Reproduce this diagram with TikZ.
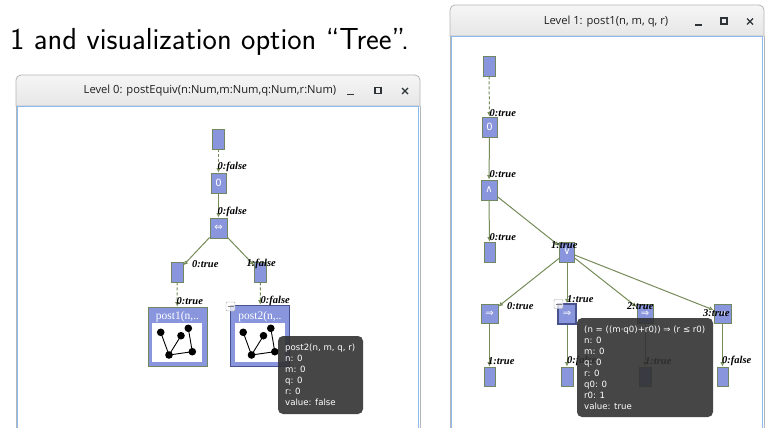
\documentclass[tikz,border=0pt]{standalone}
\usepackage{fontspec}
\usetikzlibrary{arrows.meta}
\newfontfamily\lblfont{Liberation Serif}
\newfontfamily\glyphfont{DejaVu Sans}
\newfontfamily\uifont{Open Sans}
\newfontfamily\tipfont{DejaVu Sans}
\definecolor{nodefill}{RGB}{137,150,222}
\definecolor{nodeline}{RGB}{112,135,95}
\definecolor{edgecol}{RGB}{118,140,88}
\definecolor{selline}{RGB}{72,82,140}
\definecolor{tipbg}{RGB}{50,50,50}
\definecolor{winline}{RGB}{182,182,182}
\definecolor{frameblue}{RGB}{140,186,240}
\definecolor{titletop}{RGB}{246,246,246}
\definecolor{titlebot}{RGB}{230,230,230}
\definecolor{btncol}{RGB}{46,52,54}
\tikzset{
  tn/.style={draw=nodeline, fill=nodefill, line width=0.8pt, inner sep=0pt,
    text=white, font=\glyphfont\fontsize{10}{10}\selectfont},
  seltn/.style={tn, draw=selline, line width=1.4pt},
  lnk/.style={draw=edgecol, line width=1pt, -{Latex[open,length=4.5pt,width=4.5pt]}},
  dlnk/.style={lnk, dash pattern=on 3pt off 2pt},
  lbl/.style={font=\lblfont\bfseries\itshape\fontsize{10.5}{10.5}\selectfont,
    inner sep=0pt, anchor=west, text=black},
  bignode/.style={draw=nodeline, fill=nodefill, line width=0.8pt, inner sep=0pt,
    minimum width=59pt, minimum height=59pt},
  posttitle/.style={font=\lblfont\fontsize{11.5}{11.5}\selectfont, text=white, inner sep=0pt},
  thumbbox/.style={fill=white, inner sep=0pt, minimum width=50pt, minimum height=39pt},
  tiptext/.style={font=\tipfont\fontsize{8.6}{11}\selectfont, text=white, align=left,
    inner sep=0pt, anchor=north west},
  tipbox/.style={fill=tipbg, fill opacity=0.9, rounded corners=5pt},
  wintitle/.style={font=\uifont\fontsize{11.2}{11.2}\selectfont, text=black!88, inner sep=0pt},
  collapse/.style={draw=black!35, fill=white, fill opacity=0.75, rounded corners=1pt,
    minimum width=9pt, minimum height=9pt, inner sep=0pt},
  thumb/.pic={
    \coordinate (-a) at (8.7,9.3);
    \coordinate (-b) at (29,12.7);
    \coordinate (-c) at (36.3,5.3);
    \coordinate (-d) at (17,32);
    \coordinate (-e) at (40.3,28.7);
    \draw[black, line width=0.9pt] (-a) -- (-d) -- (-b) (-c) -- (-e) -- (-d);
    \foreach \p in {a,b,c,d,e} \fill[black] (-\p) circle (3.8pt);
  }
}
\begin{document}
\begin{tikzpicture}[x=1pt, y=-1pt]
\useasboundingbox (0,0) rectangle (774,428);
\fill[white] (0,0) rectangle (774,428);

% caption line above the windows
\node[font=\sffamily\fontsize{30.4}{33}\selectfont, anchor=base west, inner sep=0pt]
  (caption) at (10,50) {1 and visualization option “Tree”.};

% ---------- window: Level 0 ----------
\fill[white] (16,105) rectangle (420,430);
\path[top color=titletop, bottom color=titlebot, draw=winline, line width=0.8pt]
  (16,106) [rounded corners=5pt] -- (16,75) -- (420,75) [sharp corners] -- (420,106) -- cycle;
\draw[winline, line width=0.8pt] (16,106) -- (16,430) (420,106) -- (420,430);
\draw[frameblue, line width=1.6pt] (17.6,430) -- (17.6,106.6) -- (418.4,106.6) -- (418.4,430);
\node[wintitle] (t0) at (210,91) {Level 0: postEquiv(n:Num,m:Num,q:Num,r:Num)};
\draw[btncol, line width=1.4pt] (347,94.5) -- (354,94.5);
\draw[btncol, line width=1.2pt] (375,87.5) rectangle (381,93.5);
\draw[btncol, line width=1.3pt] (402,88) -- (408,94) (402,94) -- (408,88);

% ---------- window: Level 1 ----------
\fill[white] (450,35) rectangle (764,430);
\path[top color=titletop, bottom color=titlebot, draw=winline, line width=0.8pt]
  (450,36) [rounded corners=5pt] -- (450,5) -- (764,5) [sharp corners] -- (764,36) -- cycle;
\draw[winline, line width=0.8pt] (450,36) -- (450,430) (764,36) -- (764,430);
\draw[frameblue, line width=1.6pt] (451.6,430) -- (451.6,36.6) -- (762.4,36.6) -- (762.4,430);
\node[wintitle] (t1) at (606,21.5) {Level 1: post1(n, m, q, r)};
\draw[btncol, line width=1.4pt] (695,25) -- (702,25);
\draw[btncol, line width=1.2pt] (721,18) rectangle (727,24);
\draw[btncol, line width=1.3pt] (747,18.5) -- (753,24.5) (747,24.5) -- (753,18.5);

% ---------- tree: postEquiv ----------
\node[tn, minimum width=12pt, minimum height=20pt] (Ltop) at (218.5,139) {};
\node[tn, minimum width=15pt, minimum height=20pt] (Lzero) at (218.5,183) {0};
\node[tn, minimum width=17pt, minimum height=20pt] (Leqv) at (218.5,228) {⇔};
\node[tn, minimum width=12pt, minimum height=20pt] (Lc0) at (177,272) {};
\node[tn, minimum width=12pt, minimum height=20pt] (Lc1) at (260.5,272) {};
\node[bignode] (P1) at (177.5,336.5) {};
\node[bignode, draw=selline, line width=1.8pt, minimum width=59pt, minimum height=61pt] (P2) at (260,336) {};
\node[posttitle] (P1t) at (177.5,316.5) {post1(n,..};
\node[posttitle] (P2t) at (260,316.5) {post2(n,..};
\node[thumbbox, anchor=north west] (P1b) at (152,323) {};
\node[thumbbox, anchor=north west] (P2b) at (234.5,323) {};
\pic (g1) at (P1b.north west) {thumb};
\pic (g2) at (P2b.north west) {thumb};

\draw[dlnk] (Ltop) -- (Lzero);
\draw[lnk] (Lzero) -- (Leqv);
\draw[lnk] (Leqv) -- (Lc0);
\draw[lnk] (Leqv) -- (Lc1);
\draw[dlnk] (Lc0) -- (P1);
\draw[dlnk] (Lc1) -- (P2);

\node[lbl] (la1) at (217.5,167) {0:false};
\node[lbl] (la2) at (217.5,212) {0:false};
\node[lbl] (la3) at (192,264) {0:true};
\node[lbl] (la4) at (246.5,264) {1:false};
\node[lbl] (la5) at (176.5,301) {0:true};
\node[lbl] (la6) at (260.5,301) {0:false};

\node[collapse] (Lcol) at (230.5,306.5) {};
\draw[black!50, line width=1pt] (227.5,306.5) -- (233.5,306.5);

% ---------- tree: post1 ----------
\node[tn, minimum width=12pt, minimum height=20pt] (Rtop) at (489,66) {};
\node[tn, minimum width=15pt, minimum height=20pt] (Rzero) at (489.5,127) {0};
\node[tn, minimum width=16pt, minimum height=20pt] (Rand) at (489,190) {∧};
\node[tn, minimum width=11pt, minimum height=20pt] (Rb0) at (489.5,252) {};
\node[tn, minimum width=15pt, minimum height=20pt] (Ror) at (567,252) {∨};
\node[tn, minimum width=17pt, minimum height=19pt] (Ri0) at (489.5,313.5) {⇒};
\node[seltn, minimum width=18pt, minimum height=20pt] (Ri1) at (567,314) {⇒};
\node[tn, minimum width=16pt, minimum height=19pt] (Ri2) at (645,313.5) {⇒};
\node[tn, minimum width=17pt, minimum height=19pt] (Ri3) at (722.5,313.5) {⇒};
\node[tn, minimum width=11pt, minimum height=19pt] (Rg0) at (489.5,376.5) {};
\node[tn, minimum width=12pt, minimum height=19pt] (Rg1) at (567,376.5) {};
\node[tn, minimum width=12pt, minimum height=19pt] (Rg2) at (645,376.5) {};
\node[tn, minimum width=11pt, minimum height=19pt] (Rg3) at (722.5,376.5) {};

\draw[dlnk] (Rtop) -- (Rzero);
\draw[lnk] (Rzero) -- (Rand);
\draw[lnk] (Rand) -- (Rb0);
\draw[lnk] (Rand) -- (Ror);
\draw[lnk] (Ror) -- (Ri0);
\draw[lnk] (Ror) -- (Ri1);
\draw[lnk] (Ror) -- (Ri2);
\draw[lnk] (Ror) -- (Ri3);
\draw[lnk] (Ri0) -- (Rg0);
\draw[lnk] (Ri1) -- (Rg1);
\draw[lnk] (Ri2) -- (Rg2);
\draw[lnk] (Ri3) -- (Rg3);

\node[lbl] (lb1) at (489.5,113) {0:true};
\node[lbl] (lb2) at (489.5,174) {0:true};
\node[lbl] (lb3) at (489.5,237) {0:true};
\node[lbl] (lb4) at (551,245) {1:true};
\node[lbl] (lb5) at (507,306) {0:true};
\node[lbl] (lb6) at (567,299) {1:true};
\node[lbl] (lb7) at (627,306) {2:true};
\node[lbl] (lb8) at (703,313) {3:true};
\node[lbl] (lb9) at (488,361) {1:true};
\node[lbl] (lb10) at (567,361) {0:false};
\node[lbl] (lb11) at (645,361) {1:true};
\node[lbl] (lb12) at (722,361) {0:false};

\node[collapse] (Rcol) at (558.5,304) {};
\draw[black!50, line width=1pt] (555.5,304) -- (561.5,304);

% ---------- hover tooltips ----------
\path[tipbox] (278,336) rectangle (363,414);
\node[tiptext] (tipA) at (285,343.5) {post2(n, m, q, r)\\n: 0\\m: 0\\q: 0\\r: 0\\value: false};
\path[tipbox] (577,318) rectangle (713,417);
\node[tiptext] (tipB) at (584,325.5) {(n = ((m·q0)+r0)) ⇒ (r ≤ r0)\\n: 0\\m: 0\\q: 0\\r: 0\\q0: 0\\r0: 1\\value: true};
\end{tikzpicture}
\end{document}
